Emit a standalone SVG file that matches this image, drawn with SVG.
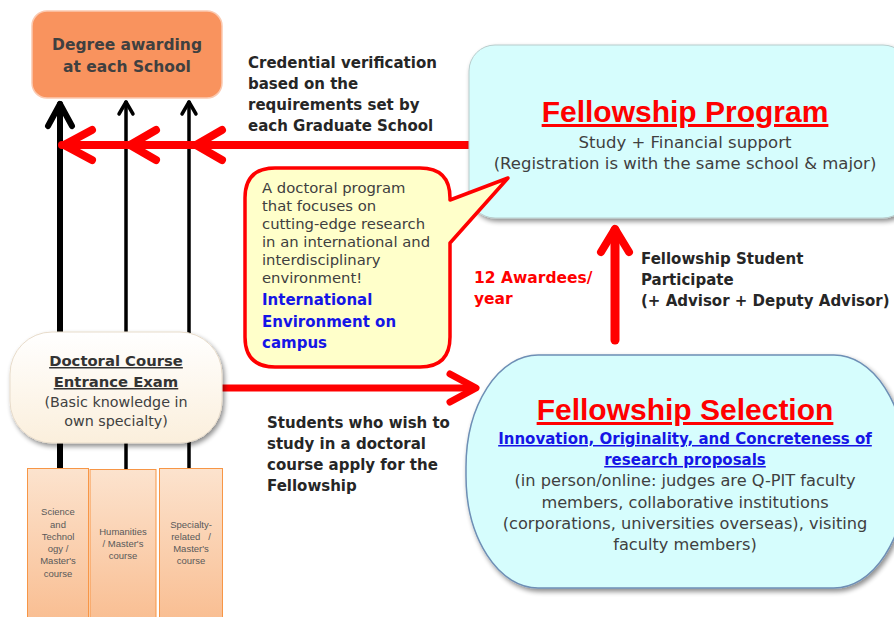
<svg xmlns="http://www.w3.org/2000/svg" width="894" height="617" viewBox="0 0 894 617">
<defs>
<filter id="sh" x="-10%" y="-10%" width="130%" height="130%">
<feGaussianBlur in="SourceAlpha" stdDeviation="2.5"/>
<feOffset dx="2" dy="3" result="b"/>
<feComponentTransfer><feFuncA type="linear" slope="0.45"/></feComponentTransfer>
<feMerge><feMergeNode/><feMergeNode in="SourceGraphic"/></feMerge>
</filter>
<linearGradient id="cg" x1="0" y1="0" x2="0" y2="1">
<stop offset="0" stop-color="#FCE3CE"/>
<stop offset="1" stop-color="#F9BE92"/>
</linearGradient>
<linearGradient id="dg" x1="0" y1="0" x2="0" y2="1">
<stop offset="0" stop-color="#FFFFFF"/>
<stop offset="1" stop-color="#FBEFDC"/>
</linearGradient>
</defs>
<style>
text{font-family:"DejaVu Sans","Liberation Sans",Arial,sans-serif;}
.lib{font-family:"Liberation Sans",Arial,sans-serif;}
.b{font-weight:bold;}
.dk{fill:#333333;}
.lbl{font-size:15px;font-weight:bold;fill:#262626;}
.red{fill:#FF0000;}
.blue{fill:#1515E6;}
.gray{fill:#404040;}
.small{font-family:"Liberation Sans",Arial,sans-serif;font-size:9.5px;fill:#595959;}
.blk{stroke:#000;fill:none;stroke-linecap:round;stroke-linejoin:round;}
.rd{stroke:#FF0000;fill:none;stroke-linecap:round;stroke-linejoin:round;}
</style>

<g id="connectors">
<line class="blk" x1="60" y1="104" x2="60" y2="470" stroke-width="6" stroke-linecap="butt"/>
<polyline class="blk" points="48,126 60,104 72,126" stroke-width="6"/>
<line class="blk" x1="126" y1="102" x2="126" y2="470" stroke-width="3.5" stroke-linecap="butt"/>
<polyline class="blk" points="119,114 126,102 133,114" stroke-width="3.5"/>
<line class="blk" x1="189" y1="102" x2="189" y2="470" stroke-width="3.5" stroke-linecap="butt"/>
<polyline class="blk" points="182,114 189,102 196,114" stroke-width="3.5"/>
<line class="rd" x1="62" y1="145" x2="470" y2="145" stroke-width="8" stroke-linecap="butt"/>
<polyline class="rd" points="92,130 64,145 92,160" stroke-width="8"/>
<polyline class="rd" points="156,130 130,145 156,160" stroke-width="8"/>
<polyline class="rd" points="222,130 196,145 222,160" stroke-width="8"/>
<line class="rd" x1="222" y1="388" x2="474" y2="388" stroke-width="7" stroke-linecap="butt"/>
<polyline class="rd" points="450,374 476,388 450,402" stroke-width="7"/>
<line class="rd" x1="615" y1="230" x2="615" y2="340" stroke-width="9" stroke-linecap="butt"/>
<polyline class="rd" points="601,252 615,229 629,252" stroke-width="8"/>
</g>

<g id="degree">
<rect x="32" y="11" width="190" height="87" rx="15" fill="#F9935E" stroke="#FBC9B0" stroke-width="1.5"/>
<text x="127" y="50" text-anchor="middle" class="b gray" font-size="15.5">Degree awarding</text>
<text x="127" y="72" text-anchor="middle" class="b gray" font-size="15.5">at each School</text>
</g>

<g id="credential-label">
<text x="248" y="68" class="lbl">Credential verification</text>
<text x="248" y="89" class="lbl">based on the</text>
<text x="248" y="110" class="lbl">requirements set by</text>
<text x="248" y="131" class="lbl">each Graduate School</text>
</g>

<g id="fellowship-program">
<rect x="469" y="45" width="440" height="173" rx="26" fill="#D6FDFD" stroke="#B8CCCC" stroke-width="1" filter="url(#sh)"/>
<text x="685" y="122" text-anchor="middle" class="b red lib" font-size="30" text-decoration="underline">Fellowship Program</text>
<text x="685" y="148" text-anchor="middle" class="gray" font-size="16.5">Study + Financial support</text>
<text x="685" y="169" text-anchor="middle" class="gray" font-size="16.5">(Registration is with the same school &amp; major)</text>
</g>

<g id="bubble">
<path d="M275,168 H420 Q450,168 450,198 V200 L508,178 L450,243 V337 Q450,367 420,367 H275 Q245,367 245,337 V198 Q245,168 275,168 Z" fill="#FFFFCA" stroke="#FF0000" stroke-width="3.5" stroke-linejoin="round"/>
<text x="262" y="193" font-size="14.8" class="gray">A doctoral program</text>
<text x="262" y="211" font-size="14.8" class="gray">that focuses on</text>
<text x="262" y="229" font-size="14.8" class="gray">cutting-edge research</text>
<text x="262" y="247" font-size="14.8" class="gray">in an international and</text>
<text x="262" y="265" font-size="14.8" class="gray">interdisciplinary</text>
<text x="262" y="283" font-size="14.8" class="gray">environment!</text>
<text x="262" y="305" font-size="15" class="b blue">International</text>
<text x="262" y="327" font-size="15" class="b blue">Environment on</text>
<text x="262" y="348" font-size="15" class="b blue">campus</text>
</g>

<g id="awardees-label">
<text x="474" y="283" font-size="15.5" class="b red">12 Awardees/</text>
<text x="474" y="304" font-size="15.5" class="b red">year</text>
</g>

<g id="participate-label">
<text x="641" y="264" class="lbl">Fellowship Student</text>
<text x="641" y="285" class="lbl">Participate</text>
<text x="641" y="306" class="lbl">(+ Advisor + Deputy Advisor)</text>
</g>

<g id="entrance-exam">
<rect x="10" y="332" width="212" height="111" rx="42" fill="url(#dg)" stroke="#E8DCCB" stroke-width="1" filter="url(#sh)"/>
<text x="116" y="366" text-anchor="middle" font-size="14.8" class="b dk" text-decoration="underline">Doctoral Course</text>
<text x="116" y="387" text-anchor="middle" font-size="14.8" class="b dk" text-decoration="underline">Entrance Exam</text>
<text x="116" y="407" text-anchor="middle" font-size="14.3" class="gray">(Basic knowledge in</text>
<text x="116" y="426" text-anchor="middle" font-size="14.3" class="gray">own specialty)</text>
</g>

<g id="apply-label">
<text x="267" y="428" class="lbl">Students who wish to</text>
<text x="267" y="449" class="lbl">study in a doctoral</text>
<text x="267" y="470" class="lbl">course apply for the</text>
<text x="267" y="491" class="lbl">Fellowship</text>
</g>

<g id="fellowship-selection">
<rect x="466" y="355" width="440" height="233" rx="72" ry="112" fill="#D6FDFD" stroke="#6E8FB5" stroke-width="1.5" filter="url(#sh)"/>
<text x="685" y="420" text-anchor="middle" class="b red lib" font-size="30" text-decoration="underline">Fellowship Selection</text>
<text x="685" y="444" text-anchor="middle" class="b blue" font-size="15" text-decoration="underline">Innovation, Originality, and Concreteness of</text>
<text x="685" y="465" text-anchor="middle" class="b blue" font-size="15" text-decoration="underline">research proposals</text>
<text x="685" y="486" text-anchor="middle" class="gray" font-size="16.2">(in person/online: judges are Q-PIT faculty</text>
<text x="685" y="508" text-anchor="middle" class="gray" font-size="16.2">members, collaborative institutions</text>
<text x="685" y="529" text-anchor="middle" class="gray" font-size="16.2">(corporations, universities overseas), visiting</text>
<text x="685" y="550" text-anchor="middle" class="gray" font-size="16.2">faculty members)</text>
</g>

<g id="course-science">
<rect x="27.5" y="468.5" width="61" height="152" fill="url(#cg)" stroke="#F79646" stroke-width="1"/>
<text x="58" y="515" text-anchor="middle" class="small">Science</text>
<text x="58" y="528" text-anchor="middle" class="small">and</text>
<text x="58" y="540" text-anchor="middle" class="small">Technol</text>
<text x="58" y="552" text-anchor="middle" class="small">ogy /</text>
<text x="58" y="564" text-anchor="middle" class="small">Master's</text>
<text x="58" y="577" text-anchor="middle" class="small">course</text>
</g>
<g id="course-humanities">
<rect x="90" y="469.5" width="66" height="152" fill="url(#cg)" stroke="#F79646" stroke-width="1"/>
<text x="123" y="535" text-anchor="middle" class="small">Humanities</text>
<text x="123" y="547" text-anchor="middle" class="small">/ Master's</text>
<text x="123" y="559" text-anchor="middle" class="small">course</text>
</g>
<g id="course-specialty">
<rect x="159.5" y="468.5" width="63" height="152" fill="url(#cg)" stroke="#F79646" stroke-width="1"/>
<text x="191" y="528" text-anchor="middle" class="small">Specialty-</text>
<text x="191" y="540" text-anchor="middle" class="small" xml:space="preserve">related   /</text>
<text x="191" y="552" text-anchor="middle" class="small">Master's</text>
<text x="191" y="564" text-anchor="middle" class="small">course</text>
</g>
</svg>
